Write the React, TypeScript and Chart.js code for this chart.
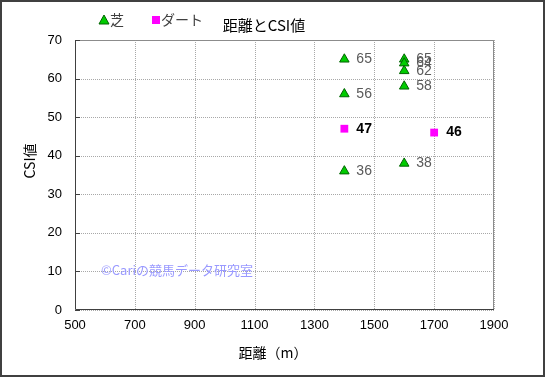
import React, { useEffect, useRef } from "react";
import { Chart, registerables } from "chart.js";

Chart.register(...registerables);

const turfDistance = [1400, 1400, 1400, 1600, 1600, 1600, 1600, 1600];
const turfCSI = [65, 56, 36, 65, 64, 62, 58, 38];
const dirtDistance = [1400, 1700];
const dirtCSI = [47, 46];
const seriesNames = ["芝", "ダート"];
const chartTitle = "距離とCSI値";
const xTitle = "距離（m）";
const yTitle = "CSI値";
const watermark = "©Cariの競馬データ研究室";

const FONT = "'Liberation Sans', 'Noto Sans CJK JP', sans-serif";
const JFONT = "'Noto Sans CJK JP', 'Liberation Sans', sans-serif";

const overlay = {
  id: "overlay",
  beforeDraw(chart: any) {
    const { ctx, width, height } = chart;
    ctx.save();
    ctx.fillStyle = "#ffffff";
    ctx.fillRect(0, 0, width, height);
    ctx.restore();
  },
  beforeDatasetsDraw(chart: any) {
    const { ctx, chartArea: a } = chart;
    const xs = chart.scales.x;
    const ys = chart.scales.y;
    ctx.save();
    // dotted grid
    ctx.strokeStyle = "#a8a8a8";
    ctx.lineWidth = 1;
    ctx.setLineDash([1, 1]);
    ys.ticks.forEach((t: any) => {
      const y = Math.round(ys.getPixelForValue(t.value)) + 0.5;
      ctx.beginPath();
      ctx.moveTo(a.left, y);
      ctx.lineTo(a.right, y);
      ctx.stroke();
    });
    xs.ticks.forEach((t: any) => {
      const x = Math.round(xs.getPixelForValue(t.value)) + 0.5;
      ctx.beginPath();
      ctx.moveTo(x, a.top);
      ctx.lineTo(x, a.bottom);
      ctx.stroke();
    });
    ctx.setLineDash([]);
    // plot border
    ctx.strokeStyle = "#8c8c8c";
    ctx.beginPath();
    ctx.moveTo(a.left, a.top + 0.5);
    ctx.lineTo(a.right - 0.5, a.top + 0.5);
    ctx.lineTo(a.right - 0.5, a.bottom);
    ctx.stroke();
    ctx.strokeStyle = "#404040";
    ctx.beginPath();
    ctx.moveTo(a.left + 0.5, a.top);
    ctx.lineTo(a.left + 0.5, a.bottom - 0.5);
    ctx.lineTo(a.right, a.bottom - 0.5);
    ctx.stroke();
    // small inward ticks on y axis
    ys.ticks.forEach((t: any) => {
      const y = Math.round(ys.getPixelForValue(t.value)) + 0.5;
      ctx.beginPath();
      ctx.moveTo(a.left, y);
      ctx.lineTo(a.left + 5, y);
      ctx.stroke();
    });
    // watermark
    ctx.fillStyle = "#9999ff";
    ctx.font = `13px ${JFONT}`;
    ctx.textAlign = "left";
    ctx.textBaseline = "middle";
    ctx.fillText(watermark, 101, 270);
    ctx.restore();
  },
  afterDatasetsDraw(chart: any) {
    const { ctx } = chart;
    ctx.save();
    ctx.textAlign = "left";
    ctx.textBaseline = "middle";
    chart.data.datasets.forEach((ds: any, i: number) => {
      const meta = chart.getDatasetMeta(i);
      meta.data.forEach((el: any, j: number) => {
        const v = ds.data[j].y;
        if (i === 0) {
          ctx.fillStyle = "#5a5a5a";
          ctx.font = `14px ${FONT}`;
        } else {
          ctx.fillStyle = "#000000";
          ctx.font = `bold 14px ${FONT}`;
        }
        ctx.fillText(String(v), el.x + 12, el.y);
      });
    });
    ctx.restore();
  },
  afterDraw(chart: any) {
    const { ctx, width, height } = chart;
    ctx.save();
    // outer frame
    ctx.strokeStyle = "#404040";
    ctx.lineWidth = 2;
    ctx.strokeRect(1, 1, width - 2, height - 2);
    // title
    ctx.fillStyle = "#000000";
    ctx.font = `15px ${JFONT}`;
    ctx.textAlign = "center";
    ctx.textBaseline = "middle";
    ctx.fillText(chartTitle, 264, 25);
    // axis titles
    ctx.font = `14px ${JFONT}`;
    ctx.fillText(xTitle, 273, 353);
    ctx.save();
    ctx.translate(30, 161);
    ctx.rotate(-Math.PI / 2);
    ctx.fillText(yTitle, 0, 0);
    ctx.restore();
    // legend
    ctx.fillStyle = "#00cc00";
    ctx.strokeStyle = "#006400";
    ctx.lineWidth = 1;
    ctx.beginPath();
    ctx.moveTo(104, 15);
    ctx.lineTo(109, 24);
    ctx.lineTo(99, 24);
    ctx.closePath();
    ctx.fill();
    ctx.stroke();
    ctx.fillStyle = "#ff00ff";
    ctx.fillRect(152, 16, 8, 8);
    ctx.fillStyle = "#404040";
    ctx.textAlign = "left";
    ctx.font = `14px ${JFONT}`;
    ctx.fillText(seriesNames[0], 110, 20);
    ctx.fillText(seriesNames[1], 161, 20);
    ctx.restore();
  },
};

export default function App() {
  const ref = useRef<HTMLCanvasElement>(null);
  useEffect(() => {
    document.body.style.margin = "0";
    const canvas = ref.current!;
    const chart = new Chart(canvas, {
      type: "scatter",
      data: {
        datasets: [
          {
            label: seriesNames[0],
            data: turfDistance.map((x, i) => ({ x, y: turfCSI[i] })),
            pointStyle: "triangle",
            pointRadius: 5.5,
            backgroundColor: "#00cc00",
            borderColor: "#006400",
            borderWidth: 1,
          },
          {
            label: seriesNames[1],
            data: dirtDistance.map((x, i) => ({ x, y: dirtCSI[i] })),
            pointStyle: "rect",
            pointRadius: 5.5,
            backgroundColor: "#ff00ff",
            borderColor: "#ff00ff",
            borderWidth: 0,
          },
        ],
      },
      options: {
        responsive: false,
        animation: false,
        layout: { padding: { left: 18, right: 51, top: 40, bottom: 0 } },
        plugins: {
          legend: { display: false },
          title: { display: false },
          tooltip: { enabled: false },
        },
        scales: {
          x: {
            type: "linear",
            min: 500,
            max: 1900,
            ticks: {
              stepSize: 200,
              padding: 8,
              color: "#000000",
              font: { family: FONT, size: 13 },
              callback: (v: any) => String(v),
            },
            grid: { display: false, drawTicks: false },
            border: { display: false },
            afterFit: (s: any) => {
              s.height = 67;
            },
          },
          y: {
            type: "linear",
            min: 0,
            max: 70,
            ticks: {
              stepSize: 10,
              padding: 13,
              color: "#000000",
              font: { family: FONT, size: 13 },
              callback: (v: any) => String(v),
            },
            grid: { display: false, drawTicks: false },
            border: { display: false },
            afterFit: (s: any) => {
              s.width = 57;
            },
          },
        },
      },
      plugins: [overlay],
    });
    return () => chart.destroy();
  }, []);
  return <canvas ref={ref} width={545} height={377} style={{ display: "block" }} />;
}
